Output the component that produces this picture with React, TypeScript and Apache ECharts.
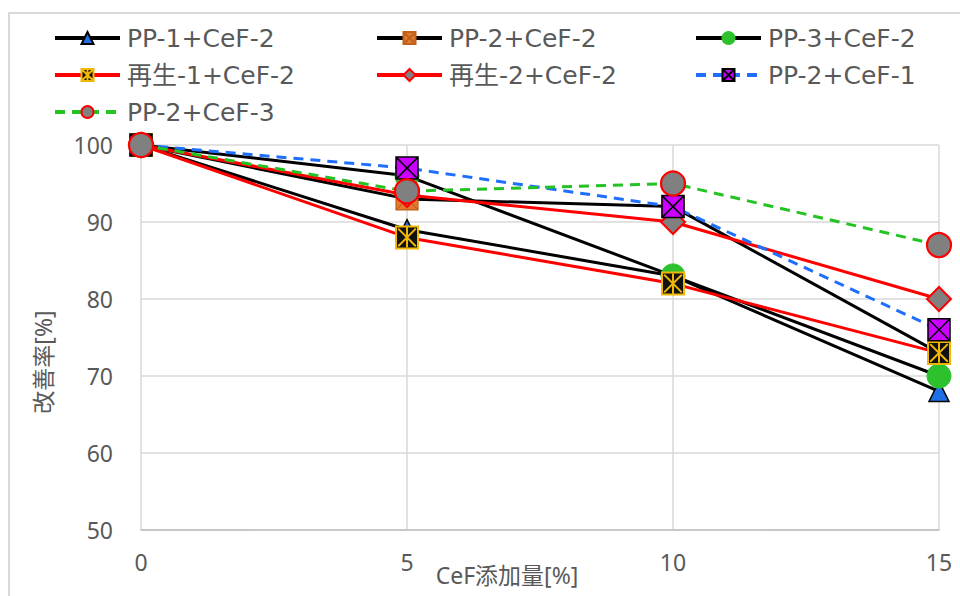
import React, { useEffect, useRef } from "react";
import * as echarts from "echarts";

const xValues = [0, 5, 10, 15];
const xTicks = [0, 5, 10, 15];
const yTicks = [50, 60, 70, 80, 90, 100];

const seriesNames = [
  "PP-1+CeF-2",
  "PP-2+CeF-2",
  "PP-3+CeF-2",
  "再生-1+CeF-2",
  "再生-2+CeF-2",
  "PP-2+CeF-1",
  "PP-2+CeF-3",
];

const pp1CeF2 = [100, 89, 83, 68];
const pp2CeF2 = [100, 93, 92, 73];
const pp3CeF2 = [100, 96, 83, 70];
const saisei1CeF2 = [100, 88, 82, 73];
const saisei2CeF2 = [100, 93.5, 90, 80];
const pp2CeF1 = [100, 97, 92, 76];
const pp2CeF3 = [100, 94, 95, 87];

const xAxisName = "CeF添加量[%]";
const yAxisName = "改善率[%]";

const FONT = "'Noto Sans', 'Noto Sans CJK JP', sans-serif";
const LEGEND_FONT = "'DejaVu Sans', 'Noto Sans CJK JP', sans-serif";
const TEXT = "#595959";

const SQUARE_X = "path://M0,0L20,0L20,20L0,20ZM0,0L20,20M20,0L0,20";
const SQUARE_STAR = "path://M0,0L20,0L20,20L0,20ZM2,2L18,18M18,2L2,18M10,1L10,19";

export default function App() {
  const ref = useRef<HTMLDivElement>(null);
  useEffect(() => {
    if (!ref.current) return;
    const chart = echarts.init(ref.current, null, { renderer: "svg" });
    const pair = (vals: number[]) => xValues.map((x, i) => [x, vals[i]]);

    const defs = [
      { data: pp1CeF2, line: "#000000", type: "solid", symbol: "triangle", size: 20, fill: "#1f6fe5", border: "#000000", bw: 1.5 },
      { data: pp2CeF2, line: "#000000", type: "solid", symbol: SQUARE_X, size: 22, fill: "#e07b30", border: "#c0601a", bw: 1.2 },
      { data: pp3CeF2, line: "#000000", type: "solid", symbol: "circle", size: 24, fill: "#2ec12e", border: "#2ec12e", bw: 1 },
      { data: saisei1CeF2, line: "#ff0000", type: "solid", symbol: SQUARE_STAR, size: 22, fill: "#111111", border: "#f2b705", bw: 2 },
      { data: saisei2CeF2, line: "#ff0000", type: "solid", symbol: "diamond", size: 24, fill: "#808080", border: "#ff0000", bw: 2 },
      { data: pp2CeF1, line: "#1f6fff", type: "dashed", symbol: SQUARE_X, size: 22, fill: "#cc00ff", border: "#000000", bw: 1.5 },
      { data: pp2CeF3, line: "#22c322", type: "dashed", symbol: "circle", size: 24, fill: "#808080", border: "#ff0000", bw: 2.2 },
    ];

    const series = defs.map((d, i) => ({
      name: seriesNames[i],
      type: "line",
      data: pair(d.data),
      symbol: d.symbol,
      symbolSize: d.size,
      symbolKeepAspect: true,
      showAllSymbol: true,
      lineStyle: { color: d.line, width: 3, type: d.type === "dashed" ? [10, 7] : "solid" },
      itemStyle: { color: d.fill, borderColor: d.border, borderWidth: d.bw },
      z: 2 + i,
    }));

    const legendPos = [
      { left: 53, top: 25 },
      { left: 375, top: 25 },
      { left: 694, top: 25 },
      { left: 53, top: 62 },
      { left: 375, top: 62 },
      { left: 694, top: 62 },
      { left: 53, top: 99 },
    ];

    const legends = seriesNames.map((n, i) => ({
      data: [n],
      left: legendPos[i].left,
      top: legendPos[i].top,
      itemWidth: 65,
      itemHeight: 15,
      itemGap: 0,
      padding: 0,
      lineStyle: { width: 4 },
      textStyle: { fontFamily: LEGEND_FONT, fontSize: 25, lineHeight: 26, color: TEXT, padding: [0, 0, 0, 2] },
      selectedMode: false,
    }));

    chart.setOption({
      animation: false,
      backgroundColor: "#ffffff",
      legend: legends,
      grid: { left: 141, right: 21, top: 145, bottom: 66, containLabel: false },
      xAxis: {
        type: "value",
        min: xTicks[0],
        max: xTicks[xTicks.length - 1],
        interval: 5,
        axisLine: { show: true, lineStyle: { color: "#bfbfbf", width: 1.5 } },
        axisTick: { show: false },
        axisLabel: { fontFamily: FONT, fontSize: 23, color: TEXT, margin: 20 },
        splitLine: { show: true, lineStyle: { color: "#d9d9d9", width: 1.5 } },
      },
      yAxis: {
        type: "value",
        min: yTicks[0],
        max: yTicks[yTicks.length - 1],
        interval: 10,
        axisLine: { show: false },
        axisTick: { show: false },
        axisLabel: { fontFamily: FONT, fontSize: 23, color: TEXT, margin: 28 },
        splitLine: { show: true, lineStyle: { color: "#d9d9d9", width: 1.5 } },
      },
      graphic: [
        {
          type: "rect",
          shape: { x: 9, y: 13, width: 970, height: 620 },
          style: { fill: "none", stroke: "#d9d9d9", lineWidth: 2 },
          silent: true,
          z: -10,
        },
        {
          type: "text",
          x: 507,
          y: 575,
          style: { text: xAxisName, fontFamily: FONT, fontSize: 23, fill: TEXT, align: "center", verticalAlign: "middle" },
        },
        {
          type: "text",
          x: 43,
          y: 362,
          rotation: Math.PI / 2,
          style: { text: yAxisName, fontFamily: FONT, fontSize: 23, fill: TEXT, align: "center", verticalAlign: "middle" },
        },
      ],
      series,
    });
    return () => chart.dispose();
  }, []);
  return (
    <div
      ref={ref}
      style={{ position: "fixed", left: 0, top: 0, width: 960, height: 596, background: "#fff" }}
    />
  );
}
